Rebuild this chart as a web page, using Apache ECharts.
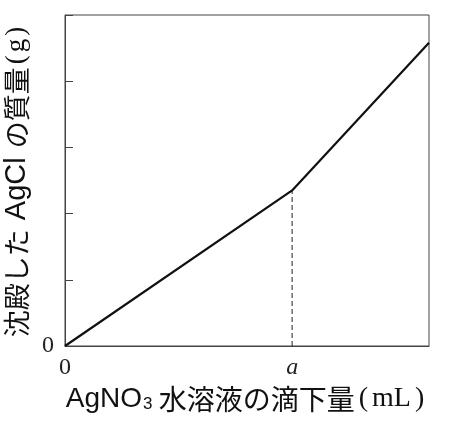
<!DOCTYPE html>
<html><head><meta charset="utf-8">
<script src="https://cdn.jsdelivr.net/npm/echarts@6/dist/echarts.min.js"></script>
<style>html,body{margin:0;padding:0;background:#fff;}#c{width:460px;height:433px;}</style>
</head><body><div id="c"></div>
<script>
const xValues = [0, 6.24, 10];
const yValues = [0, 2.35, 4.58];
const kinkX = 6.24;
const kinkY = 2.35;
const xTickValues = [0, 6.24];
const xTickLabels = ['0', 'a'];
const yTickLabels = ['0'];
const xTitle = '{s|AgNO}{sub|3}{j| 水溶液の滴下量}{p|(}{m|mL}{p|)}';
const yTitle = '{j|沈殿した }{s|AgCl}{j| の質量}{p|(}{m|g}{p|)}';

const chart = echarts.init(document.getElementById('c'), null, {renderer: 'canvas'});
const serif = '"Liberation Serif", "DejaVu Serif", serif';
const sans = '"Liberation Sans", Arial, sans-serif';
const cjk = '"Noto Sans CJK JP", sans-serif';
chart.setOption({
  animation: false,
  backgroundColor: '#fff',
  grid: {left: 65, right: 31, top: 15, bottom: 87, show: true, borderColor: '#444', borderWidth: 1, outerBoundsMode: 'none', containLabel: false},
  xAxis: {
    type: 'value', min: 0, max: 10,
    axisLine: {show: true, lineStyle: {color: '#444', width: 1}},
    axisTick: {show: false},
    splitLine: {show: false},
    axisLabel: {
      customValues: xTickValues,
      margin: 10,
      fontFamily: serif, fontSize: 24, color: '#222',
      formatter: function (v) { const i = xTickValues.indexOf(v); return i === 1 ? '{i|' + xTickLabels[i] + '}' : xTickLabels[i]; },
      rich: {i: {fontFamily: serif, fontStyle: 'italic', fontSize: 24, color: '#222'}}
    },
    name: xTitle, nameLocation: 'middle', nameGap: 36,
    nameTextStyle: {
      rich: {
        s: {fontFamily: sans, fontSize: 28, color: '#111'},
        sub: {fontFamily: sans, fontSize: 17, color: '#111', verticalAlign: 'bottom', padding: [9, 0, 0, 1]},
        j: {fontFamily: cjk, fontSize: 28, color: '#111'},
        p: {fontFamily: serif, fontSize: 28, color: '#111', padding: [0, 4]},
        m: {fontFamily: serif, fontSize: 28, color: '#111'}
      }
    }
  },
  yAxis: {
    type: 'value', min: 0, max: 5, interval: 1,
    axisLine: {show: true, lineStyle: {color: '#444', width: 1}},
    axisTick: {show: true, inside: true, length: 8, lineStyle: {color: '#444'}},
    splitLine: {show: false},
    axisLabel: {
      margin: 11, fontFamily: serif, fontSize: 24, color: '#222',
      formatter: function (v) { return v === 0 ? yTickLabels[0] : ''; }
    },
    name: yTitle, nameLocation: 'middle', nameGap: 33, nameRotate: 90,
    nameTextStyle: {
      rich: {
        s: {fontFamily: sans, fontSize: 29, color: '#111', padding: [0, 3]},
        j: {fontFamily: cjk, fontSize: 27, color: '#111'},
        p: {fontFamily: serif, fontSize: 27, color: '#111', padding: [0, 3]},
        m: {fontFamily: serif, fontSize: 27, color: '#111'}
      }
    }
  },
  series: [
    {
      type: 'line', data: xValues.map((x, i) => [x, yValues[i]]),
      symbol: 'none', lineStyle: {color: '#111', width: 2.2}
    },
    {
      type: 'line', data: [[kinkX, 0], [kinkX, kinkY]],
      symbol: 'none', lineStyle: {color: '#222', width: 1, type: [5, 3]}, z: 1
    }
  ]
});
</script></body></html>
